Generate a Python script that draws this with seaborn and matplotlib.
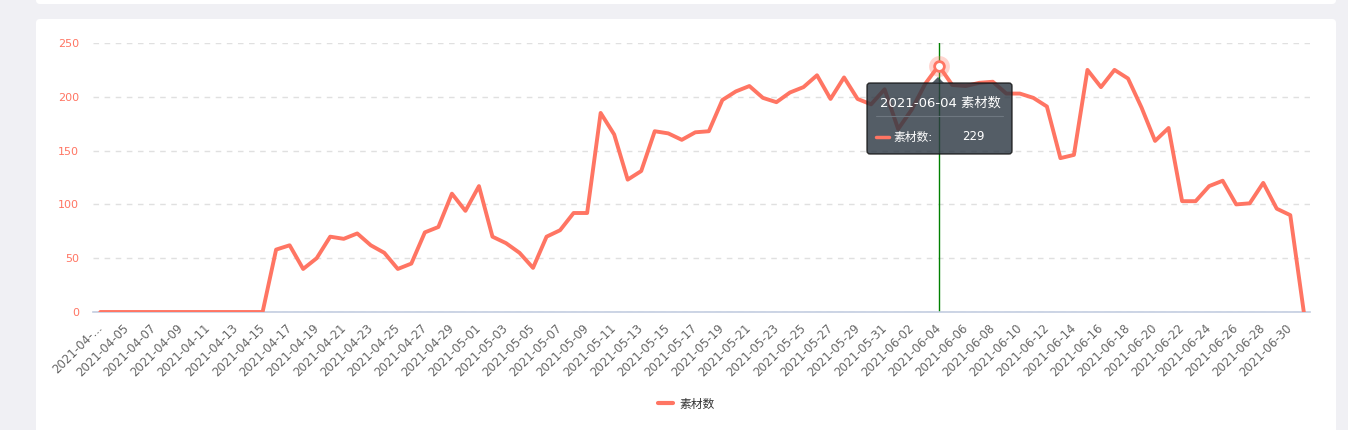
import matplotlib
matplotlib.use('Agg')
import matplotlib.pyplot as plt
import seaborn as sns
import pandas as pd
from matplotlib.patches import FancyBboxPatch, Polygon
from matplotlib.lines import Line2D
from matplotlib.transforms import IdentityTransform

# Datos: un valor por día (素材数)
fechas = pd.date_range('2021-04-03', '2021-07-01', freq='D')
valores = [0, 0, 0, 0, 0, 0, 0, 0, 0, 0, 0, 0, 0,
           58, 62, 40, 50, 70, 68, 73, 62, 55, 40,
           45, 74, 79, 110, 94, 117, 70, 64, 55, 41,
           70, 76, 92, 92, 185, 165, 123, 131, 168, 166,
           160, 167, 168, 197, 205, 210, 199, 195, 204, 209,
           220, 198, 218, 198, 193, 207, 170, 188, 212, 229,
           211, 210, 213, 214, 203, 203, 199, 191, 143, 146,
           225, 209, 225, 217, 190, 159, 171, 103, 103, 117,
           122, 100, 101, 120, 96, 90, 0]
serie = '素材数'
idx_tooltip = 62  # 2021-06-04

df = pd.DataFrame({'fecha': fechas, serie: valores})

rojo = '#ff7563'

sns.set_style('white')
plt.rcParams['font.family'] = ['DejaVu Sans', 'Noto Sans CJK SC']

fig = plt.figure(figsize=(13.48, 4.30), dpi=100)
fig.patch.set_facecolor('#f0f0f4')
px = IdentityTransform()

# tarjetas blancas
fig.add_artist(FancyBboxPatch((36, -20), 1300, 431, boxstyle='round,pad=0,rounding_size=4',
                              transform=px, fc='white', ec='none', zorder=-10))
fig.add_artist(FancyBboxPatch((36, 426), 1300, 20, boxstyle='round,pad=0,rounding_size=4',
                              transform=px, fc='white', ec='none', zorder=-10))

ax = fig.add_axes([93 / 1348, 118 / 430, (1310 - 93) / 1348, 269 / 430])
ax.patch.set_alpha(0)

sns.lineplot(data=df, x='fecha', y=serie, ax=ax, color=rojo, linewidth=2.8,
             solid_joinstyle='round', solid_capstyle='round', zorder=3)

ax.set_ylim(0, 250)
ax.set_xlim(fechas[0] - pd.Timedelta(hours=13), fechas[-1] + pd.Timedelta(hours=11))
ax.set_yticks([0, 50, 100, 150, 200, 250])
ax.yaxis.grid(True, linestyle=(0, (4, 4)), color='#e0e0e0', linewidth=1)
ax.xaxis.grid(False)
ax.set_xlabel('')
ax.set_ylabel('')

for lado in ['left', 'top', 'right']:
    ax.spines[lado].set_visible(False)
ax.spines['bottom'].set_color('#c3cde0')
ax.spines['bottom'].set_linewidth(1.2)

ticks = fechas[::2]
etiquetas = [f.strftime('%Y-%m-%d') for f in ticks]
etiquetas[0] = '2021-04-...'
ax.set_xticks(ticks)
ax.set_xticklabels(etiquetas, rotation=45, ha='right', va='center', rotation_mode='anchor')
ax.tick_params(axis='x', length=5, width=1, color='#c3cde0', labelcolor='#666666',
               labelsize=8.5, pad=5)
ax.tick_params(axis='y', length=0, labelcolor=rojo, labelsize=8, pad=10)

# línea vertical y punto resaltado
x_t = fechas[idx_tooltip]
y_t = valores[idx_tooltip]
ax.axvline(x_t, color='green', linewidth=1, zorder=2)
ax.plot([x_t], [y_t], 'o', markersize=15, color=rojo, alpha=0.3, markeredgewidth=0, zorder=4)
ax.plot([x_t], [y_t], 'o', markersize=7, markerfacecolor='white', markeredgecolor=rojo,
        markeredgewidth=2, zorder=5)

# tooltip
caja = '#2e3944'
fig.add_artist(FancyBboxPatch((867, 276), 145, 71, boxstyle='round,pad=0,rounding_size=3',
                              transform=px, fc=caja, ec='#111111', lw=1, alpha=0.82, zorder=6))
fig.add_artist(Polygon([(932, 347), (944, 347), (938, 353)], closed=True, transform=px,
                       fc=caja, ec='none', alpha=0.82, zorder=6))
fig.text(940, 327, f"{x_t.strftime('%Y-%m-%d')} {serie}", transform=px, color='white',
         fontsize=9.5, ha='center', va='center', zorder=7)
fig.add_artist(Line2D([876, 1003], [314, 314], transform=px, color='#6e7780', lw=0.8, zorder=7))
fig.add_artist(Line2D([876, 889], [293, 293], transform=px, color=rojo, lw=2.5, zorder=7))
fig.text(893, 293, f'{serie}:', transform=px, color='white', fontsize=8.5,
         ha='left', va='center', zorder=7)
fig.text(962, 293, f'{y_t}', transform=px, color='white', fontsize=8.5,
         ha='left', va='center', zorder=7)

# leyenda
fig.legend(handles=[Line2D([], [], color=rojo, lw=3)], labels=[serie], loc='center',
           bbox_to_anchor=(686 / 1348, 26 / 430), frameon=False, fontsize=8.5,
           handlelength=1.3, handletextpad=0.5, labelcolor='#333333')

fig.savefig('out.png', dpi=100, facecolor=fig.get_facecolor())
